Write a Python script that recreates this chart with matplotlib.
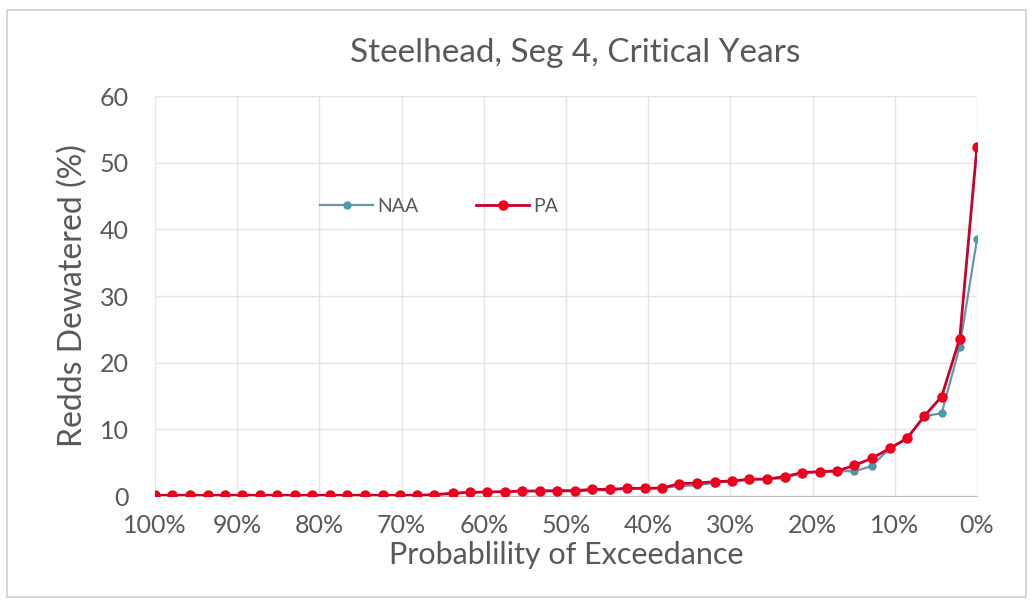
import numpy as np
import matplotlib
matplotlib.use('Agg')
import matplotlib.pyplot as plt
from matplotlib.patches import Rectangle

# probability of exceedance (%) for each ranked year
exceedance = [100.0, 97.9, 95.7, 93.6, 91.5, 89.4, 87.2, 85.1, 83.0, 80.9,
              78.7, 76.6, 74.5, 72.3, 70.2, 68.1, 66.0, 63.8, 61.7, 59.6,
              57.4, 55.3, 53.2, 51.1, 48.9, 46.8, 44.7, 42.6, 40.4, 38.3,
              36.2, 34.0, 31.9, 29.8, 27.7, 25.5, 23.4, 21.3, 19.1, 17.0,
              14.9, 12.8, 10.6, 8.5, 6.4, 4.3, 2.1, 0.0]

# redds dewatered (%)
pa = [0.1, 0.1, 0.1, 0.1, 0.1, 0.1, 0.1, 0.1, 0.1, 0.1,
      0.1, 0.1, 0.1, 0.1, 0.1, 0.1, 0.2, 0.4, 0.55, 0.6,
      0.65, 0.75, 0.75, 0.8, 0.8, 1.0, 1.0, 1.15, 1.15, 1.2,
      1.85, 1.95, 2.15, 2.25, 2.5, 2.55, 2.9, 3.5, 3.65, 3.75,
      4.6, 5.65, 7.15, 8.65, 12.0, 14.9, 23.6, 52.4]
naa = [0.1, 0.1, 0.1, 0.1, 0.1, 0.1, 0.1, 0.1, 0.1, 0.1,
       0.1, 0.1, 0.1, 0.1, 0.1, 0.1, 0.2, 0.4, 0.55, 0.6,
       0.65, 0.75, 0.75, 0.8, 0.7, 0.85, 0.85, 1.15, 1.15, 1.2,
       1.5, 1.6, 2.0, 2.25, 2.5, 2.55, 2.7, 3.5, 3.65, 3.75,
       3.7, 4.5, 7.15, 8.65, 12.0, 12.4, 22.4, 38.5]

xticks = [100, 90, 80, 70, 60, 50, 40, 30, 20, 10, 0]
yticks = [0, 10, 20, 30, 40, 50, 60]

plt.rcParams['font.family'] = ['Lato', 'DejaVu Sans']
txt = '#595959'

fig = plt.figure(figsize=(10.31, 6.04), dpi=100)
fig.patches.append(Rectangle((0.007, 0.012), 0.988, 0.972, transform=fig.transFigure,
                             fill=False, edgecolor='#d0d0d0', linewidth=1.2))
ax = fig.add_axes([0.1503, 0.1788, 0.7973, 0.6622])

ax.plot(exceedance, naa, color='#6a93ad', linewidth=1.6, marker='o', markersize=5,
        markerfacecolor='#4c9aa8', markeredgecolor='#4c9aa8', label='NAA', zorder=3)
ax.plot(exceedance, pa, color='#c8002e', linewidth=2.0, marker='o', markersize=6.5,
        markerfacecolor='#f0001e', markeredgecolor='#f0001e', label='PA', zorder=4)

ax.set_xlim(100, 0)
ax.set_ylim(0, 60)
ax.set_xticks(xticks)
ax.set_xticklabels(['%d%%' % v for v in xticks])
ax.set_yticks(yticks)
ax.tick_params(axis='both', length=0, labelsize=18, colors=txt)
ax.tick_params(axis='x', pad=13)
ax.tick_params(axis='y', pad=19)
ax.grid(True, color='#e4e4e4', linewidth=1)
ax.set_axisbelow(True)
for s in ['top', 'right', 'left']:
    ax.spines[s].set_visible(False)
ax.spines['bottom'].set_color('#bfbfbf')

ax.set_ylabel('Redds Dewatered (%)', fontsize=23, color=txt, labelpad=8)
ax.set_xlabel('Probablility of Exceedance', fontsize=22, color=txt, labelpad=3)
fig.text(0.558, 0.912, 'Steelhead, Seg 4, Critical Years', fontsize=24, color=txt,
         ha='center', va='center')

ax.legend(loc='upper left', bbox_to_anchor=(0.18, 0.79), ncol=2, frameon=False,
          fontsize=14, labelcolor=txt, handlelength=2.7, handletextpad=0.2,
          columnspacing=3.0)

plt.savefig('out.png', dpi=100)
